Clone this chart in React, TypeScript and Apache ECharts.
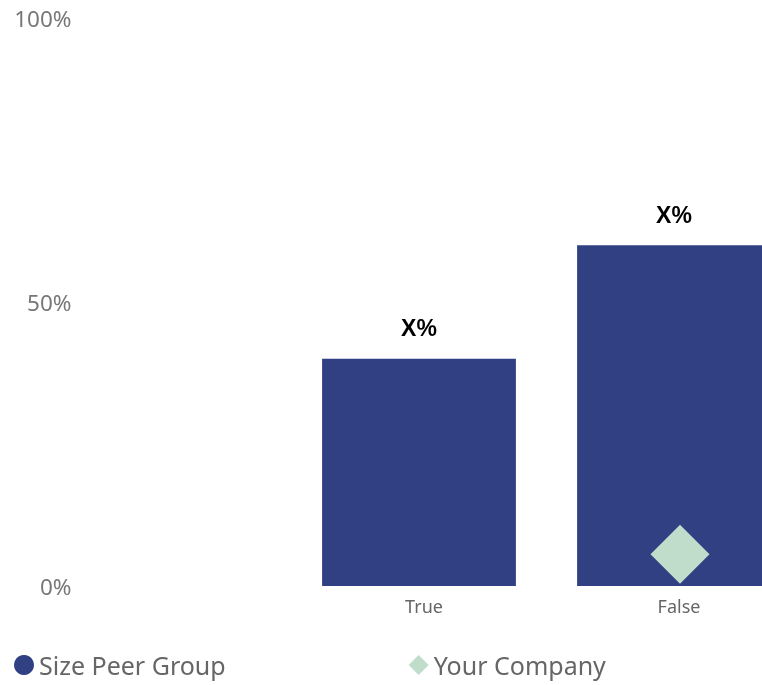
import React, { useEffect, useRef } from "react";
import * as echarts from "echarts";

const categories = ["", "True", "False"];
const peerGroupValues = [null, 40, 60];
const yourCompanyValues = [null, null, 5.6];
const dataLabelText = "X%";
const yTickLabels = { 0: "0%", 50: "50%", 100: "100%" } as Record<number, string>;

export default function App() {
  const ref = useRef<HTMLDivElement>(null);
  useEffect(() => {
    if (!ref.current) return;
    const chart = echarts.init(ref.current, undefined, { renderer: "svg" });
    chart.setOption({
      animation: false,
      grid: { left: 36.5, right: -39.5, top: 18, bottom: 99, outerBoundsMode: "none" },
      legend: {
        left: 14,
        top: 652,
        padding: 0,
        itemGap: 183,
        itemWidth: 20,
        itemHeight: 20,
        textStyle: { fontFamily: "Noto Sans", fontSize: 25, lineHeight: 26, color: "#666666" },
        data: [
          { name: "Size Peer Group", icon: "circle" },
          { name: "Your Company", icon: "diamond" },
        ],
      },
      xAxis: {
        type: "category",
        data: categories,
        axisLine: { show: false },
        axisTick: { show: false },
        axisLabel: {
          fontFamily: "Noto Sans",
          fontSize: 18,
          color: "#666666",
          margin: 11,
          padding: [0, 0, 0, 10],
        },
      },
      yAxis: {
        type: "value",
        min: 0,
        max: 100,
        interval: 50,
        splitLine: { show: false },
        axisLine: { show: false },
        axisTick: { show: false },
        axisLabel: {
          inside: true,
          align: "right",
          margin: 35,
          fontFamily: "Noto Sans",
          fontSize: 22.5,
          color: "#777777",
          formatter: (v: number) => yTickLabels[v] ?? "",
        },
      },
      series: [
        {
          name: "Size Peer Group",
          type: "bar",
          data: peerGroupValues,
          barWidth: "76%",
          itemStyle: { color: "#313F83" },
          label: {
            show: true,
            position: "top",
            distance: 19,
            formatter: () => dataLabelText,
            fontFamily: "Liberation Sans",
            fontWeight: "bold",
            fontSize: 23,
            color: "#000000",
          },
        },
        {
          name: "Your Company",
          type: "scatter",
          data: yourCompanyValues,
          symbol: "diamond",
          symbolSize: 59,
          symbolOffset: [6, 0],
          itemStyle: { color: "#C0DCCB", opacity: 1 },
        },
      ],
    });
    return () => chart.dispose();
  }, []);
  return <div ref={ref} style={{ position: "fixed", left: 0, top: 0, width: 762, height: 685 }} />;
}
